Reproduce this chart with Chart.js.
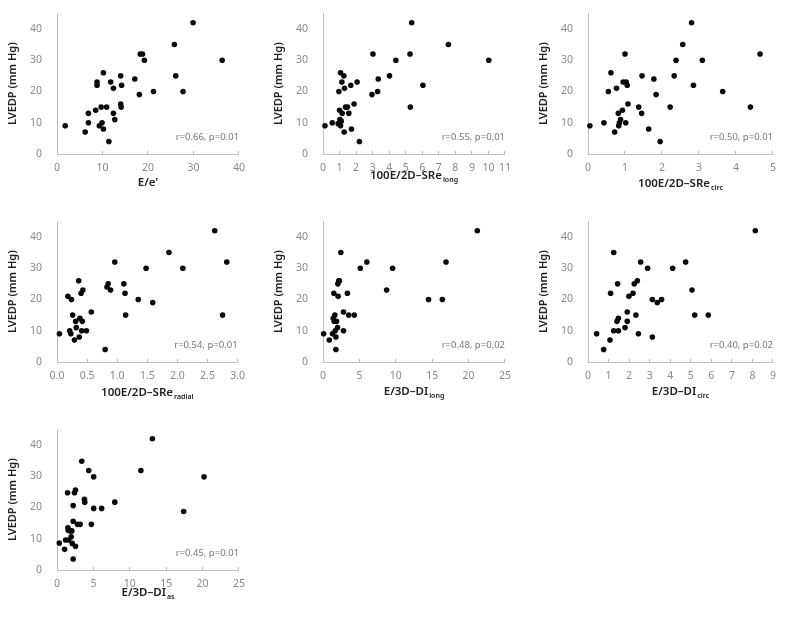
<!DOCTYPE html>
<html>
<head>
<meta charset="utf-8">
<script src="https://cdn.jsdelivr.net/npm/chart.js@4.4.0/dist/chart.umd.min.js"></script>
<style>
  body { margin: 0; background: #fff; width: 787px; height: 617px; overflow: hidden; position: relative; }
  .panel { position: absolute; width: 256px; height: 200px; }
</style>
</head>
<body>
<div class="panel" style="left:0px;top:0px"><canvas id="p1"></canvas></div>
<div class="panel" style="left:266px;top:0px"><canvas id="p2"></canvas></div>
<div class="panel" style="left:531px;top:0px"><canvas id="p3"></canvas></div>
<div class="panel" style="left:0px;top:208px"><canvas id="p4"></canvas></div>
<div class="panel" style="left:266px;top:208px"><canvas id="p5"></canvas></div>
<div class="panel" style="left:531px;top:208px"><canvas id="p6"></canvas></div>
<div class="panel" style="left:0px;top:416px"><canvas id="p7"></canvas></div>
<script>
// LVEDP (mm Hg) against each index
const eeX = [1.8, 6.2, 6.9, 6.9, 8.5, 8.8, 8.8, 9.3, 9.7, 9.9, 10.2, 10.2, 10.9, 11.4, 11.8, 12.4, 12.4, 12.7, 14.0, 14.1, 14.0, 14.2, 17.1, 18.1, 18.3, 18.8, 19.2, 21.2, 25.8, 26.1, 27.7, 29.9, 36.3];
const eeY = [9, 7, 10, 13, 14, 23, 22, 9, 15, 10, 8, 26, 15, 4, 23, 21, 13, 11, 16, 15, 25, 22, 24, 19, 32, 32, 30, 20, 35, 25, 20, 42, 30];

const srLongX = [0.12, 0.56, 0.92, 0.96, 1.0, 1.02, 1.06, 1.06, 1.1, 1.14, 1.16, 1.26, 1.28, 1.3, 1.36, 1.48, 1.56, 1.68, 1.72, 1.88, 2.06, 2.2, 2.96, 3.02, 3.3, 3.34, 4.02, 4.4, 5.26, 5.28, 5.36, 6.04, 7.58, 10.02];
const srLongY = [9, 10, 9.7, 20, 14, 11, 26, 9, 10.5, 23, 13, 25, 7, 21, 15, 15, 13, 22, 8, 16, 23, 4, 19, 32, 20, 24, 25, 30, 32, 15, 42, 22, 35, 30];

const srCircX = [0.05, 0.43, 0.55, 0.62, 0.72, 0.77, 0.82, 0.83, 0.85, 0.88, 0.93, 0.95, 1.0, 1.02, 1.03, 1.06, 1.08, 1.37, 1.45, 1.46, 1.64, 1.78, 1.84, 1.95, 2.22, 2.33, 2.38, 2.56, 2.8, 2.85, 3.09, 3.64, 4.39, 4.65];
const srCircY = [9, 10, 20, 26, 7, 21, 13, 9, 10, 11, 14, 23, 32, 10, 23, 22, 16, 15, 13, 25, 8, 24, 19, 4, 15, 25, 30, 35, 42, 22, 30, 20, 15, 32];

const srRadX = [0.04, 0.18, 0.21, 0.23, 0.24, 0.26, 0.29, 0.31, 0.32, 0.36, 0.37, 0.38, 0.40, 0.41, 0.42, 0.43, 0.49, 0.57, 0.80, 0.83, 0.85, 0.89, 0.96, 1.11, 1.13, 1.14, 1.35, 1.48, 1.59, 1.86, 2.09, 2.62, 2.75, 2.82];
const srRadY = [9, 21, 10, 9, 20, 15, 7, 13, 11, 26, 8, 14, 22, 10, 13, 23, 10, 16, 4, 24, 25, 23, 32, 25, 22, 15, 20, 30, 19, 35, 30, 42, 15, 32];

const diLongX = [0.09, 0.86, 1.31, 1.4, 1.49, 1.54, 1.63, 1.68, 1.77, 1.77, 1.86, 2.0, 2.04, 2.08, 2.17, 2.26, 2.45, 2.81, 2.81, 3.35, 3.53, 4.3, 5.12, 6.02, 8.74, 9.56, 14.5, 16.4, 16.9, 21.2];
const diLongY = [9, 7, 9, 14, 22, 13, 15, 10, 8, 4, 13, 11, 25, 21, 26, 26, 35, 16, 10, 22, 15, 15, 30, 32, 23, 30, 20, 20, 32, 42];

const diCircX = [0.42, 0.76, 1.07, 1.1, 1.25, 1.25, 1.41, 1.44, 1.48, 1.48, 1.8, 1.91, 1.91, 1.99, 2.19, 2.25, 2.33, 2.4, 2.45, 2.56, 2.9, 3.13, 3.13, 3.37, 3.58, 4.12, 4.75, 5.06, 5.19, 5.85, 8.14];
const diCircY = [9, 4, 7, 22, 35, 10, 13, 25, 14, 10, 11, 16, 13, 21, 22, 25, 15, 26, 9, 32, 30, 20, 8, 19, 20, 30, 32, 23, 15, 15, 42];

const diAsX = [0.32, 1.04, 1.18, 1.45, 1.5, 1.54, 1.59, 1.81, 1.95, 2.04, 2.09, 2.22, 2.22, 2.22, 2.4, 2.54, 2.54, 2.81, 3.18, 3.4, 3.77, 3.81, 4.36, 4.72, 5.04, 5.04, 6.13, 7.94, 11.52, 13.1, 17.4, 20.2];
const diAsY = [8.6, 6.6, 9.6, 24.7, 13.5, 12.7, 9.6, 12.5, 10.6, 12.5, 8.5, 20.6, 15.6, 3.5, 24.7, 25.6, 7.6, 14.6, 14.6, 34.8, 22.6, 21.7, 31.8, 14.6, 29.8, 19.7, 19.7, 21.7, 31.8, 42, 18.7, 29.8];

const yTicks = [0, 10, 20, 30, 40];
const statLabels = ['r=0.66, p=0.01', 'r=0.55, p=0.01', 'r=0.50, p=0.01', 'r=0.54, p=0.01', 'r=0.48, p=0.02', 'r=0.40, p=0.02', 'r=0.45, p=0.01'];
const xTitles = ["E/e'", '100E/2D–SRe', '100E/2D–SRe', '100E/2D–SRe', 'E/3D–DI', 'E/3D–DI', 'E/3D–DI'];
const xSubs = ['', 'long', 'circ', 'radial', 'long', 'circ', 'as'];
const xMaxes = [40, 11, 5, 3, 25, 9, 25];
const xSteps = [10, 1, 1, 0.5, 5, 1, 5];

const series = [
  [eeX, eeY], [srLongX, srLongY], [srCircX, srCircY], [srRadX, srRadY],
  [diLongX, diLongY], [diCircX, diCircY], [diAsX, diAsY]
];
// distance of the x title below the axis, per panel
const titleDy = [29, 22, 30, 31, 30, 30, 23];

const FONT = '"Noto Sans", sans-serif';
const axisGray = '#bdbdbd';

// x title with a subscript, and the r / p note
const panelText = {
  id: 'panelText',
  afterDraw(chart, args, opts) {
    const ctx = chart.ctx;
    const a = chart.chartArea;
    ctx.save();
    // stat note
    ctx.font = '9.5px ' + FONT;
    ctx.fillStyle = '#777';
    ctx.textAlign = 'right';
    ctx.textBaseline = 'middle';
    ctx.fillText(opts.stat, a.right, a.bottom - 17);
    // x title
    ctx.textAlign = 'left';
    ctx.fillStyle = '#222';
    ctx.font = '600 11.5px ' + FONT;
    const w1 = ctx.measureText(opts.main).width;
    ctx.font = '600 7px ' + FONT;
    const w2 = opts.sub ? ctx.measureText(opts.sub).width + 1 : 0;
    const x0 = (a.left + a.right) / 2 - (w1 + w2) / 2;
    const y0 = a.bottom + opts.dy;
    ctx.font = '600 11.5px ' + FONT;
    ctx.fillText(opts.main, x0, y0);
    if (opts.sub) {
      ctx.font = '600 7px ' + FONT;
      ctx.fillText(opts.sub, x0 + w1 + 1, y0 + 4);
    }
    ctx.restore();
  }
};

series.forEach(function (s, i) {
  const pts = s[0].map(function (x, k) { return { x: x, y: s[1][k] }; });
  new Chart(document.getElementById('p' + (i + 1)), {
    type: 'scatter',
    data: {
      datasets: [{
        data: pts,
        pointRadius: 2.8,
        pointHoverRadius: 2.8,
        backgroundColor: '#0a0a0a',
        borderWidth: 0,
        clip: false
      }]
    },
    options: {
      responsive: true,
      maintainAspectRatio: false,
      animation: false,
      events: [],
      layout: { padding: { top: 11, right: 14, bottom: 0, left: 0 } },
      plugins: {
        legend: { display: false },
        tooltip: { enabled: false },
        panelText: { main: xTitles[i], sub: xSubs[i], stat: statLabels[i], dy: titleDy[i] }
      },
      scales: {
        x: {
          type: 'linear',
          min: 0,
          max: xMaxes[i],
          afterFit: function (scale) { scale.height = 46; },
          grid: { drawOnChartArea: false, drawTicks: true, tickLength: -3, color: axisGray },
          border: { color: axisGray },
          ticks: {
            stepSize: xSteps[i],
            autoSkip: false,
            maxRotation: 0,
            padding: 11,
            color: '#888',
            font: { family: FONT, size: 10.5 },
            callback: function (v) { return xSteps[i] < 1 ? v.toFixed(1) : v; }
          }
        },
        y: {
          type: 'linear',
          min: 0,
          max: 45,
          afterFit: function (scale) { scale.width = 57; },
          afterBuildTicks: function (scale) {
            scale.ticks = yTicks.map(function (v) { return { value: v }; });
          },
          grid: { display: false },
          border: { color: axisGray },
          ticks: {
            padding: 7,
            color: '#888',
            font: { family: FONT, size: 10.5 }
          },
          title: {
            display: true,
            text: 'LVEDP (mm Hg)',
            color: '#222',
            font: { family: FONT, size: 11, weight: '600' },
            padding: { top: 6, bottom: 0 }
          }
        }
      }
    },
    plugins: [panelText]
  });
});
</script>
</body>
</html>
